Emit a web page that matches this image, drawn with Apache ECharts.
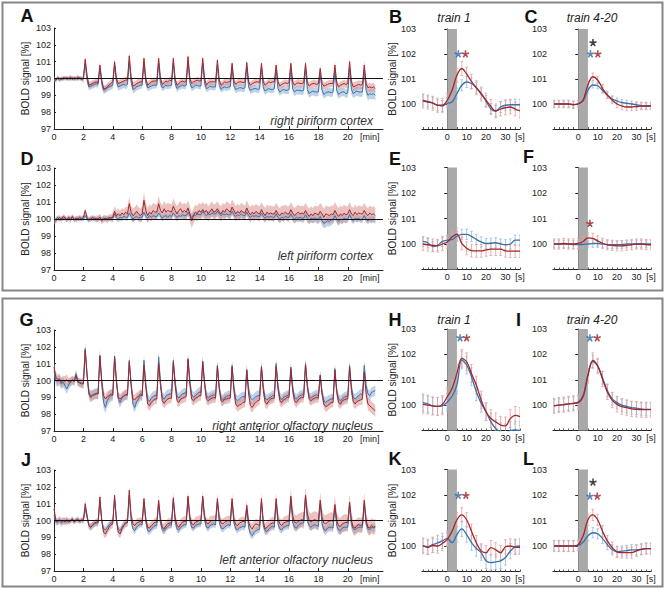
<!DOCTYPE html>
<html><head><meta charset="utf-8">
<script src="https://cdn.jsdelivr.net/npm/echarts@6/dist/echarts.min.js"></script>
<style>html,body{margin:0;padding:0;background:#fff}#c{width:666px;height:590px}</style>
</head><body><div id="c"></div><script>
// ---------- tick labels ----------
const bigXTicks = [0,2,4,6,8,10,12,14,16,18,20];
const bigYTicks = [97,98,99,100,101,102,103];
const smallXTicks = [0,10,20,30];
const smallYTicks = [100,101,102,103];
const stimWindow = [0,5];           // seconds (grey bar)
const STEP_MIN = 0.125;             // sampling step of the long time courses (min)

// ---------- long time courses (8 samples per minute, minutes 0..21) ----------
const aRed = [
100.0,99.9,100.05,100.0,99.95,100.05,100.0,100.05,
100.0,100.1,99.95,100.05,100.0,100.1,100.0,99.95,
100.0,101.15,100.2,99.6,99.65,99.7,99.75,99.8,
99.75,100.8,99.9,99.4,99.4,99.5,99.6,99.7,
99.8,101.0,100.0,99.7,99.75,99.8,99.85,99.9,
99.9,101.35,100.1,99.55,99.6,99.7,99.75,99.8,
99.8,101.2,100.0,99.6,99.7,99.8,99.85,99.85,
99.85,101.2,100.0,99.65,99.75,99.85,99.8,99.9,
99.85,101.2,99.95,99.6,99.7,99.8,99.85,99.8,
99.85,101.3,100.0,99.7,99.8,99.85,99.9,99.85,
99.85,101.2,100.0,99.6,99.75,99.8,99.8,99.8,
99.8,101.1,99.9,99.6,99.7,99.8,99.75,99.8,
99.8,100.9,99.85,99.65,99.75,99.8,99.8,99.75,
99.8,100.95,99.8,99.6,99.7,99.75,99.8,99.8,
99.75,100.9,99.8,99.6,99.7,99.8,99.75,99.8,
99.8,100.8,99.8,99.55,99.65,99.7,99.75,99.7,
99.75,100.9,99.8,99.6,99.7,99.75,99.7,99.7,
99.75,100.9,99.75,99.55,99.65,99.7,99.7,99.65,
99.7,100.6,99.7,99.55,99.6,99.65,99.7,99.7,
99.7,100.8,99.75,99.5,99.6,99.65,99.7,99.65,
99.7,101.0,99.8,99.5,99.55,99.6,99.65,99.6,
99.65,100.8,99.7,99.45,99.5,99.45,99.5,99.4];
const aBlue = [
99.95,99.9,100.0,99.9,100.0,99.95,100.05,99.95,
100.0,99.95,100.05,99.95,100.0,99.95,100.05,100.0,
99.95,100.9,99.9,99.5,99.55,99.6,99.65,99.7,
99.65,100.6,99.7,99.3,99.35,99.45,99.5,99.55,
99.6,100.8,99.8,99.5,99.55,99.6,99.65,99.6,
99.65,101.0,99.8,99.35,99.4,99.5,99.55,99.6,
99.6,100.9,99.75,99.45,99.5,99.55,99.6,99.6,
99.6,100.9,99.7,99.45,99.5,99.6,99.55,99.6,
99.6,100.9,99.7,99.4,99.5,99.55,99.6,99.55,
99.6,101.0,99.75,99.45,99.5,99.6,99.6,99.55,
99.55,100.9,99.7,99.4,99.45,99.55,99.5,99.5,
99.5,100.8,99.6,99.35,99.45,99.5,99.45,99.5,
99.5,100.6,99.55,99.35,99.4,99.45,99.45,99.4,
99.45,100.7,99.5,99.3,99.35,99.4,99.4,99.35,
99.4,100.6,99.45,99.25,99.35,99.4,99.35,99.35,
99.4,100.5,99.4,99.2,99.3,99.35,99.3,99.3,
99.35,100.6,99.4,99.2,99.3,99.3,99.3,99.25,
99.3,100.6,99.35,99.1,99.2,99.25,99.2,99.2,
99.2,100.3,99.3,99.05,99.15,99.2,99.2,99.15,
99.2,100.5,99.3,99.05,99.15,99.2,99.2,99.1,
99.15,100.6,99.35,99.1,99.2,99.25,99.2,99.2,
99.2,100.5,99.3,99.0,99.1,99.05,99.1,99.0];
const dRed = [
99.8,99.9,100.0,100.1,99.95,100.15,100.05,99.95,
100.1,100.0,100.15,99.95,100.05,100.0,100.1,100.0,
100.1,100.5,100.1,99.95,100.0,100.1,100.0,100.05,
100.0,100.1,99.9,100.0,100.05,99.95,100.1,100.05,
100.1,100.45,100.2,100.3,100.2,100.35,100.25,100.4,
100.3,100.9,100.4,100.2,100.3,100.45,100.3,100.2,
100.3,101.1,100.5,100.2,100.4,100.3,100.5,100.4,
100.4,100.9,100.5,100.35,100.6,100.4,100.5,100.45,
100.4,100.75,100.5,100.3,100.5,100.6,100.4,100.5,
100.4,100.65,100.3,99.9,100.2,100.4,100.3,100.5,
100.4,100.55,100.4,100.5,100.3,100.45,100.6,100.4,
100.45,100.6,100.4,100.3,100.5,100.4,100.6,100.5,
100.4,100.7,100.5,100.3,100.45,100.35,100.5,100.4,
100.35,100.65,100.4,100.25,100.4,100.3,100.45,100.35,
100.3,100.55,100.35,100.2,100.4,100.3,100.35,100.3,
100.3,100.5,100.3,100.2,100.35,100.3,100.4,100.3,
100.3,100.55,100.35,100.2,100.3,100.4,100.3,100.35,
100.3,100.5,100.3,100.15,100.3,100.2,100.35,100.3,
100.25,100.45,100.3,100.1,100.3,100.25,100.2,100.3,
100.25,100.5,100.3,100.15,100.3,100.2,100.35,100.25,
100.3,100.55,100.3,100.2,100.4,100.25,100.35,100.3,
100.3,100.5,100.3,100.2,100.35,100.25,100.3,100.2];
const dBlue = [
99.9,100.0,100.1,99.95,100.05,100.0,100.1,99.95,
100.05,99.95,100.1,100.0,99.95,100.05,100.0,100.05,
100.0,100.2,100.0,99.95,100.05,100.0,100.05,99.95,
100.0,100.1,99.95,100.05,100.0,100.05,100.0,100.05,
100.05,100.3,100.1,100.0,100.1,100.05,100.15,100.1,
100.1,100.35,100.15,100.0,100.1,100.15,100.05,100.1,
100.1,100.4,100.15,100.05,100.2,100.1,100.2,100.15,
100.15,100.35,100.2,100.05,100.15,100.2,100.1,100.2,
100.15,100.35,100.2,100.1,100.2,100.15,100.25,100.2,
100.2,100.4,100.2,100.1,100.25,100.2,100.3,100.25,
100.25,100.45,100.3,100.2,100.3,100.25,100.35,100.3,
100.3,100.45,100.3,100.2,100.3,100.25,100.3,100.25,
100.25,100.45,100.25,100.15,100.25,100.2,100.3,100.2,
100.2,100.4,100.2,100.1,100.2,100.15,100.2,100.15,
100.15,100.35,100.15,100.05,100.15,100.1,100.15,100.1,
100.1,100.3,100.1,100.0,100.1,100.05,100.15,100.1,
100.1,100.3,100.1,100.0,100.1,100.05,100.1,100.05,
100.05,100.25,100.05,99.95,100.05,100.0,100.05,100.0,
100.0,100.15,99.9,99.75,99.8,99.9,99.85,99.95,
99.95,100.2,100.0,99.85,100.0,99.95,100.05,100.0,
100.0,100.25,100.05,99.9,100.05,100.0,100.05,99.95,
100.0,100.2,100.0,99.9,100.0,99.95,100.0,99.95];
const gRed = [
100.8,100.2,100.05,100.1,99.9,100.0,99.95,100.05,
99.9,99.95,100.05,99.95,100.3,99.9,99.85,99.8,
99.8,101.8,100.3,99.2,99.0,99.1,99.15,99.2,
99.2,101.45,100.0,99.1,98.9,99.05,99.1,99.2,
99.15,101.4,100.0,99.0,98.9,99.0,99.1,99.15,
99.2,101.1,99.8,98.9,98.85,99.0,99.05,99.2,
99.1,100.9,99.6,98.6,98.5,98.7,98.8,98.9,
98.9,101.0,99.7,98.8,98.65,98.8,98.9,98.95,
98.95,101.1,99.7,98.8,98.7,98.9,98.95,99.0,
99.05,101.25,99.8,98.9,98.8,98.95,99.0,99.1,
99.1,101.1,99.8,98.9,98.8,98.9,98.95,99.0,
98.95,100.85,99.5,98.8,98.75,98.9,98.9,98.95,
98.95,100.8,99.4,98.6,98.45,98.55,98.6,98.7,
98.7,100.6,99.2,98.5,98.4,98.6,98.7,98.8,
98.85,100.8,99.4,98.7,98.6,98.8,98.9,98.95,
98.95,100.85,99.5,98.8,98.7,98.85,98.9,99.0,
99.0,100.7,99.4,98.8,98.7,98.85,98.95,99.0,
99.0,100.95,99.6,98.9,98.8,98.9,98.95,99.0,
98.95,100.3,99.2,98.6,98.45,98.5,98.6,98.7,
98.7,100.6,99.3,98.7,98.6,98.8,98.85,98.9,
98.9,100.8,99.4,98.75,98.6,98.75,98.8,98.85,
98.9,100.5,99.2,98.6,98.5,98.4,98.3,98.2];
const gBlue = [
100.6,100.0,99.95,100.0,99.8,99.9,99.7,99.5,
99.75,99.9,100.0,99.95,100.4,99.95,99.9,99.85,
99.85,101.9,100.4,99.3,99.1,99.15,99.2,99.25,
99.2,101.5,99.8,98.7,98.4,98.8,99.0,99.1,
99.1,101.45,99.9,98.9,98.7,98.95,99.05,99.15,
99.1,101.2,99.7,98.6,98.4,98.75,98.9,99.1,
99.1,101.2,99.8,98.9,98.75,98.95,99.05,99.1,
99.1,101.4,99.9,99.0,98.9,99.1,99.15,99.2,
99.2,101.2,99.9,99.1,98.95,99.1,99.2,99.25,
99.25,101.3,99.95,99.15,99.0,99.1,99.2,99.3,
99.3,101.15,99.9,99.1,98.95,99.05,99.1,99.15,
99.1,100.9,99.6,98.95,98.85,99.0,99.05,99.1,
99.1,100.9,99.6,98.9,98.8,98.9,99.0,99.05,
99.0,100.65,99.5,98.95,98.85,98.95,99.05,99.1,
99.1,100.85,99.6,98.95,98.85,98.95,99.0,99.1,
99.1,101.0,99.7,99.0,98.85,99.0,99.05,99.1,
99.15,100.8,99.6,99.0,98.9,99.0,99.1,99.15,
99.15,101.0,99.7,99.05,98.95,99.05,99.1,99.15,
99.1,100.3,99.3,98.8,98.7,98.8,98.85,98.9,
98.9,100.7,99.4,98.9,98.8,98.9,99.0,99.05,
99.05,100.9,99.6,99.0,98.9,99.0,99.1,99.2,
99.15,100.9,99.7,99.2,99.1,99.3,99.35,99.4];
const jRed = [
100.7,100.0,99.9,100.05,99.95,100.0,99.9,100.05,
99.9,100.0,100.1,99.9,100.05,100.0,99.95,100.05,
100.0,101.0,100.3,99.7,99.6,99.75,99.85,99.9,
99.9,101.4,100.0,99.3,99.2,99.4,99.6,99.75,
99.8,101.5,100.0,99.3,99.2,99.5,99.7,99.85,
99.9,101.8,100.3,99.8,99.7,99.85,99.9,99.95,
99.9,101.3,100.1,99.6,99.55,99.7,99.8,99.9,
99.9,101.2,100.1,99.6,99.5,99.7,99.8,99.85,
99.85,101.35,100.15,99.7,99.6,99.8,99.9,99.95,
99.95,101.45,100.2,99.8,99.75,99.9,99.95,100.0,
100.0,101.45,100.25,99.85,99.8,99.95,100.0,100.0,
100.0,101.3,100.2,99.85,99.8,99.9,99.95,100.0,
99.95,101.3,100.1,99.75,99.7,99.85,99.9,99.95,
99.9,100.9,99.9,99.6,99.5,99.7,99.8,99.75,
99.7,101.3,99.9,99.5,99.6,99.7,99.8,99.85,
99.85,101.3,100.1,99.8,99.7,99.85,99.9,99.95,
99.95,101.45,100.3,99.9,99.85,99.95,100.0,100.05,
100.0,101.5,100.4,100.0,99.9,100.0,100.05,100.0,
99.95,101.2,100.2,99.85,99.8,99.9,99.95,100.0,
99.95,100.95,100.0,99.7,99.65,99.8,99.85,99.9,
99.85,101.1,100.0,99.6,99.55,99.7,99.75,99.7,
99.75,101.2,100.0,99.6,99.55,99.7,99.6,99.65];
const jBlue = [
100.3,99.9,99.95,100.0,99.85,99.95,100.0,99.9,
100.0,99.95,100.05,99.95,100.0,100.1,99.95,100.0,
100.0,100.7,100.2,99.7,99.6,99.7,99.8,99.85,
99.85,101.1,100.0,99.5,99.45,99.6,99.75,99.85,
99.9,101.3,100.0,99.5,99.4,99.6,99.75,99.85,
99.85,101.5,100.0,99.5,99.4,99.6,99.7,99.8,
99.75,101.1,99.9,99.4,99.35,99.5,99.6,99.7,
99.7,101.0,99.85,99.45,99.4,99.55,99.65,99.75,
99.7,101.2,99.9,99.5,99.45,99.6,99.7,99.75,
99.75,101.3,100.0,99.6,99.55,99.7,99.75,99.8,
99.8,101.3,100.05,99.6,99.55,99.7,99.75,99.8,
99.75,101.1,99.9,99.55,99.5,99.6,99.7,99.75,
99.7,101.1,99.85,99.5,99.45,99.55,99.6,99.65,
99.6,100.7,99.6,99.2,99.1,99.3,99.4,99.45,
99.5,101.1,99.7,99.4,99.35,99.5,99.6,99.65,
99.6,101.1,99.8,99.5,99.45,99.6,99.65,99.7,
99.7,101.3,99.9,99.6,99.55,99.7,99.8,99.85,
99.85,101.4,100.0,99.7,99.6,99.7,99.75,99.7,
99.65,101.0,99.8,99.45,99.4,99.55,99.6,99.6,
99.55,100.8,99.7,99.45,99.4,99.55,99.6,99.6,
99.6,100.9,99.75,99.5,99.45,99.55,99.6,99.6,
99.6,101.0,99.8,99.5,99.45,99.6,99.55,99.6];

// s.e.m. half-widths per minute (0..21)
const aRedErr  = [0.12,0.12,0.2,0.2,0.2,0.22,0.2,0.2,0.2,0.2,0.2,0.2,0.2,0.2,0.2,0.2,0.22,0.22,0.22,0.22,0.25,0.25];
const aBlueErr = [0.12,0.12,0.2,0.22,0.22,0.22,0.2,0.2,0.2,0.2,0.2,0.2,0.22,0.22,0.22,0.22,0.25,0.25,0.25,0.25,0.28,0.3];
const dRedErr  = [0.15,0.15,0.15,0.2,0.3,0.4,0.45,0.45,0.45,0.45,0.45,0.45,0.45,0.45,0.45,0.45,0.45,0.45,0.5,0.5,0.45,0.45];
const dBlueErr = [0.12,0.15,0.15,0.15,0.2,0.2,0.2,0.2,0.2,0.2,0.2,0.2,0.2,0.2,0.2,0.2,0.25,0.25,0.3,0.25,0.2,0.2];
const gRedErr  = [0.3,0.25,0.3,0.3,0.3,0.3,0.3,0.3,0.3,0.3,0.3,0.3,0.3,0.3,0.3,0.3,0.3,0.3,0.3,0.3,0.3,0.35];
const gBlueErr = [0.3,0.25,0.3,0.35,0.3,0.3,0.3,0.3,0.3,0.3,0.3,0.3,0.3,0.3,0.3,0.3,0.3,0.3,0.3,0.3,0.3,0.3];
const jRedErr  = [0.2,0.15,0.2,0.25,0.25,0.25,0.25,0.3,0.3,0.3,0.3,0.3,0.3,0.3,0.35,0.35,0.45,0.5,0.5,0.5,0.45,0.45];
const jBlueErr = [0.2,0.15,0.2,0.2,0.2,0.2,0.2,0.2,0.2,0.2,0.2,0.2,0.2,0.22,0.22,0.22,0.22,0.22,0.25,0.25,0.25,0.25];

// ---------- event-related averages ----------
const smallT = [-12.5,-10,-7.5,-5,-2.5,0,2.5,5,7.5,10,12.5,15,17.5,20,22.5,25,27.5,30,32.5,35,37.5];
const bRed  = [100.12,100.08,100.03,99.95,99.95,100.15,100.55,101.15,101.42,101.2,100.9,100.65,100.4,100.15,99.9,99.72,99.8,99.85,99.88,99.8,99.72];
const bBlue = [100.15,100.1,100.05,99.95,99.92,100.03,100.08,100.42,100.75,100.88,100.82,100.65,100.42,100.12,99.8,99.72,99.88,99.95,99.97,99.97,99.97];
const cRed  = [100,100,100,100,99.97,100.0,100.16,100.76,101.09,100.96,100.63,100.36,100.16,100.0,99.92,99.88,99.88,99.9,99.92,99.92,99.92];
const cBlue = [100,100,100,100,99.98,100.02,100.12,100.55,100.76,100.73,100.55,100.35,100.2,100.12,100.06,100.03,100.0,99.97,99.93,99.92,99.92];
const eRed  = [100.0,99.97,99.95,99.93,100.0,100.08,100.28,100.39,100.02,99.83,99.74,99.73,99.73,99.77,99.8,99.8,99.8,99.73,99.72,99.72,99.72];
const eBlue = [100.1,100.05,99.9,99.95,100.1,100.15,100.17,100.3,100.38,100.38,100.3,100.18,100.08,100.02,100.03,100.05,100.0,99.97,100.0,100.15,100.15];
const fRed  = [100,100,100.02,100.0,100.0,100.02,100.1,100.24,100.22,100.12,100.03,99.97,99.95,99.93,99.93,99.95,99.97,100.0,100.0,99.98,99.97];
const fBlue = [100,100,100,100,99.98,99.98,99.98,100.0,100.02,100.02,100.0,99.98,99.97,99.97,99.98,100,100,100,100,100,100];
const hRed  = [100.03,100.0,99.97,99.95,100.03,100.33,100.66,101.25,101.84,101.71,101.25,100.79,100.2,99.74,99.47,99.34,99.21,99.18,99.47,99.6,99.55];
const hBlue = [100.1,100.05,99.97,99.95,99.97,100.12,100.35,100.8,101.78,101.58,101.12,100.53,100.07,99.74,99.34,99.08,98.95,98.9,99.0,99.02,99.0];
const iRed  = [99.97,100.0,100.02,100.05,100.07,100.1,100.33,101.16,101.76,101.55,101.03,100.52,100.2,100.03,99.94,99.9,99.85,99.83,99.82,99.82,99.82];
const iBlue = [99.97,100.0,100.02,100.05,100.07,100.12,100.38,101.2,101.72,101.55,101.08,100.58,100.25,100.1,100.0,99.95,99.9,99.88,99.85,99.83,99.83];
const kRed  = [100.02,99.94,100.02,100.0,100.1,100.26,100.58,101.03,101.22,101.03,100.58,100.13,99.81,99.74,99.94,99.85,99.74,99.97,100.0,99.96,99.95];
const kBlue = [100.0,99.97,100.05,100.12,100.2,100.3,100.13,100.45,100.67,100.45,100.13,99.9,99.74,99.42,99.35,99.38,99.42,99.55,99.8,99.97,100.0];
const lRed  = [100,100,100,100,100,100.05,100.39,101.03,101.22,101.03,100.58,100.2,99.94,99.77,99.74,99.74,99.74,99.81,99.87,99.9,99.9];
const lBlue = [100,100,100,100,100,100.02,100.15,100.4,100.52,100.48,100.3,100.05,99.85,99.77,99.8,99.82,99.85,99.85,99.87,99.9,99.9];
// error half-widths [red, blue]
const bErr = [0.28,0.22], cErr = [0.15,0.12], eErr = [0.25,0.2], fErr = [0.2,0.15];
const hErr = [0.35,0.35], iErr = [0.3,0.25], kErr = [0.28,0.3], lErr = [0.22,0.2];
// significance stars [time s, value, group]
const bStars = [[5.7,102,'blue'],[9.4,102,'red']];
const cStars = [[7.6,102.45,'black'],[6.3,102,'blue'],[10.1,102,'red']];
const eStars = [];
const fStars = [[6,100.8,'red']];
const hStars = [[6.6,102.65,'blue'],[10,102.65,'red']];
const iStars = [[6,102.65,'blue'],[9.8,102.65,'red']];
const kStars = [[5.7,101.98,'blue'],[9.6,101.98,'red']];
const lStars = [[7.6,102.5,'black'],[6,101.95,'blue'],[9.8,101.95,'red']];

// ---------- styling ----------
const FONT = '"Liberation Sans", Arial, Helvetica, sans-serif';
const COL = {red:'#a3262b', blue:'#3b71a8', black:'#111111'};
const STAR = {red:'#9a1f22', blue:'#2f68a3', black:'#111111'};
const BAND = {red:'rgba(214,136,130,0.5)', blue:'rgba(128,166,208,0.5)'};
const EB = {red:'#e3a09c', blue:'#95bde0'};
const AX = '#222';

// asterisk-shaped symbol (5 arms)
const ASTERISK = (function(){
  const parts=[]; const r=10, w=2.1;
  for(let k=0;k<5;k++){
    const a=(k*72-90)*Math.PI/180, c=Math.cos(a), s=Math.sin(a), px=-s*w, py=c*w;
    const pts=[[px,py],[r*c+px,r*s+py],[r*c-px,r*s-py],[-px,-py]];
    parts.push('M'+pts.map(p=>p[0].toFixed(2)+' '+p[1].toFixed(2)).join(' L')+' Z');
  }
  return 'path://'+parts.join(' ');
})();

const bigPanels = [
  {red:aRed, blue:aBlue, rErr:aRedErr, bErr:aBlueErr, top:28, h:101},
  {red:dRed, blue:dBlue, rErr:dRedErr, bErr:dBlueErr, top:168, h:102},
  {red:gRed, blue:gBlue, rErr:gRedErr, bErr:gBlueErr, top:330, h:101},
  {red:jRed, blue:jBlue, rErr:jRedErr, bErr:jBlueErr, top:470, h:101}
];
const smallPanels = [
  {red:bRed, blue:bBlue, err:bErr, stars:bStars, left:422, top:29, h:100, yName:true},
  {red:cRed, blue:cBlue, err:cErr, stars:cStars, left:553, top:29, h:100, yName:false},
  {red:eRed, blue:eBlue, err:eErr, stars:eStars, left:422, top:167.5, h:102, yName:true},
  {red:fRed, blue:fBlue, err:fErr, stars:fStars, left:553, top:167.5, h:102, yName:false},
  {red:hRed, blue:hBlue, err:hErr, stars:hStars, left:422, top:329, h:101.5, yName:true},
  {red:iRed, blue:iBlue, err:iErr, stars:iStars, left:553, top:329, h:101.5, yName:false},
  {red:kRed, blue:kBlue, err:kErr, stars:kStars, left:422, top:469.5, h:102, yName:true},
  {red:lRed, blue:lBlue, err:lErr, stars:lStars, left:553, top:469.5, h:102, yName:false}
];

const grid=[], xAxis=[], yAxis=[], series=[];
const lblStyle = {fontSize:9, color:AX, fontFamily:FONT};

function bandSeries(idx, vals, errs, color){
  const up=[], lo=[];
  vals.forEach((v,i)=>{const t=i*STEP_MIN; const e=errs[Math.min(errs.length-1,Math.floor(t+1e-9))]; up.push([t,v+e]); lo.push([t,v-e]);});
  return {type:'custom', xAxisIndex:idx, yAxisIndex:idx, silent:true, clip:true, z:1, data:[[0,100]],
    renderItem:(p,api)=>({type:'polygon', shape:{points: up.map(d=>api.coord(d)).concat(lo.slice().reverse().map(d=>api.coord(d)))}, style:{fill:color}})};
}
function errSeries(idx, vals, err, color){
  return {type:'custom', xAxisIndex:idx, yAxisIndex:idx, silent:true, clip:true, z:2,
    data: smallT.map((t,i)=>[t, vals[i]-err, vals[i]+err]), encode:{x:0, y:[1,2]},
    renderItem:(p,api)=>{
      const a=api.coord([api.value(0),api.value(1)]), b=api.coord([api.value(0),api.value(2)]);
      const st={stroke:color, lineWidth:0.8};
      return {type:'group', children:[
        {type:'line', shape:{x1:a[0],y1:a[1],x2:b[0],y2:b[1]}, style:st},
        {type:'line', shape:{x1:a[0]-1.3,y1:a[1],x2:a[0]+1.3,y2:a[1]}, style:st},
        {type:'line', shape:{x1:b[0]-1.3,y1:b[1],x2:b[0]+1.3,y2:b[1]}, style:st}]};
    }};
}

bigPanels.forEach((p,k)=>{
  const idx = grid.length;
  grid.push({left:54, top:p.top, width:329, height:p.h});
  xAxis.push({type:'value', gridIndex:idx, min:0, max:22.4,
    axisLine:{lineStyle:{color:AX,width:1}},
    axisTick:{show:true, inside:true, length:3, customValues:bigXTicks, lineStyle:{color:AX}},
    axisLabel:Object.assign({customValues:bigXTicks.concat([21.5]), margin:3,
      formatter:v=> v===21.5 ? '[min]' : String(v)}, lblStyle),
    splitLine:{show:false}});
  yAxis.push({type:'value', gridIndex:idx, min:97, max:103, interval:1,
    axisLine:{show:true, lineStyle:{color:AX,width:1}},
    axisTick:{show:true, inside:true, length:2, lineStyle:{color:AX}},
    axisLabel:Object.assign({margin:3, customValues:bigYTicks}, lblStyle),
    splitLine:{show:false},
    name:'BOLD signal [%]', nameLocation:'middle', nameGap:24,
    nameTextStyle:{fontSize:10, color:AX, fontFamily:FONT}});
  series.push(bandSeries(idx, p.blue, p.bErr, BAND.blue));
  series.push(bandSeries(idx, p.red, p.rErr, BAND.red));
  const toXY = vals => vals.map((v,i)=>[i*STEP_MIN, v]);
  series.push({type:'line', xAxisIndex:idx, yAxisIndex:idx, data:toXY(p.blue), showSymbol:false, silent:true, z:3,
    lineStyle:{color:COL.blue, width:1}});
  series.push({type:'line', xAxisIndex:idx, yAxisIndex:idx, data:toXY(p.red), showSymbol:false, silent:true, z:4,
    lineStyle:{color:COL.red, width:1},
    markLine:{silent:true, symbol:'none', label:{show:false}, lineStyle:{color:'#111', width:1.1, type:'solid'}, data:[{yAxis:100}]}});
});

smallPanels.forEach((p,k)=>{
  const idx = grid.length;
  grid.push({left:p.left, top:p.top, width:98, height:p.h});
  xAxis.push({type:'value', gridIndex:idx, min:-13, max:37.5,
    axisLine:{lineStyle:{color:AX,width:1}},
    axisTick:{show:true, inside:true, length:2, customValues:smallT, lineStyle:{color:'#555'}},
    axisLabel:Object.assign({customValues:smallXTicks.concat([37.5]), margin:3,
      formatter:v=> v===37.5 ? '[s]' : String(v)}, lblStyle),
    splitLine:{show:false}});
  yAxis.push({type:'value', gridIndex:idx, min:99, max:103,
    axisLine:{show:true, lineStyle:{color:AX,width:1}},
    axisTick:{show:true, inside:false, length:3, customValues:smallYTicks, lineStyle:{color:AX}},
    axisLabel:Object.assign({customValues:smallYTicks, margin:6}, lblStyle),
    splitLine:{show:false},
    name: p.yName ? 'BOLD signal [%]' : '', nameLocation:'middle', nameGap:20,
    nameTextStyle:{fontSize:10, color:AX, fontFamily:FONT}});
  // stimulation bar
  series.push({type:'custom', xAxisIndex:idx, yAxisIndex:idx, silent:true, z:1, data:[[stimWindow[0], stimWindow[1]]],
    renderItem:(pp,api)=>{
      const a=api.coord([api.value(0),103]), b=api.coord([api.value(1),99]);
      return {type:'rect', shape:{x:a[0], y:a[1], width:b[0]-a[0], height:b[1]-a[1]}, style:{fill:'#a9a9a9'}};
    }});
  series.push(errSeries(idx, p.blue, p.err[1], EB.blue));
  series.push(errSeries(idx, p.red, p.err[0], EB.red));
  series.push({type:'line', xAxisIndex:idx, yAxisIndex:idx, data:smallT.map((t,i)=>[t,p.blue[i]]), showSymbol:false, smooth:0.35, silent:true, z:3,
    lineStyle:{color:COL.blue, width:1.3}});
  series.push({type:'line', xAxisIndex:idx, yAxisIndex:idx, data:smallT.map((t,i)=>[t,p.red[i]]), showSymbol:false, smooth:0.35, silent:true, z:4,
    lineStyle:{color:COL.red, width:1.3}});
  if (p.stars.length) series.push({type:'scatter', xAxisIndex:idx, yAxisIndex:idx, symbol:ASTERISK, symbolSize:7.5, silent:true, z:5,
    data:p.stars.map(s=>({value:[s[0],s[1]], itemStyle:{color:STAR[s[2]]}}))});
});

// ---------- text & frames ----------
const letters = [['A',27,16],['B',395.5,16.5],['C',531,16.5],['D',27,159],['E',395,158.5],['F',528.5,157],
  ['G',26.5,319.5],['H',395,319.5],['I',518.5,319.5],['J',26,459.5],['K',395,459],['L',528.5,459]];
const titles = [['train 1',454,17.5],['train 4-20',592,17.5],['train 1',454,319.5],['train 4-20',592,319.5]];
const regions = [['right piriform cortex',373,120.5],['left piriform cortex',373,255.5],
  ['right anterior olfactory nucleus',373,426],['left anterior olfactory nucleus',373,559.5]];
const graphic = [
  {type:'rect', shape:{x:2.5,y:2.5,width:660,height:288}, style:{fill:'none', stroke:'#858585', lineWidth:2}, silent:true},
  {type:'rect', shape:{x:2.5,y:298.5,width:660,height:288}, style:{fill:'none', stroke:'#858585', lineWidth:2}, silent:true}
];
letters.forEach(l=>graphic.push({type:'text', x:l[1], y:l[2], silent:true,
  style:{text:l[0], fontSize:18, fontWeight:'bold', fontFamily:FONT, fill:'#111', align:'center', verticalAlign:'middle'}}));
titles.forEach(l=>graphic.push({type:'text', x:l[1], y:l[2], silent:true,
  style:{text:l[0], fontSize:12, fontStyle:'italic', fontFamily:FONT, fill:'#222', align:'center', verticalAlign:'middle'}}));
regions.forEach(l=>graphic.push({type:'text', x:l[1], y:l[2], silent:true,
  style:{text:l[0], fontSize:12, fontStyle:'italic', fontFamily:FONT, fill:'#333', align:'right', verticalAlign:'middle'}}));

const chart = echarts.init(document.getElementById('c'), null, {renderer:'svg', width:666, height:590});
chart.setOption({animation:false, backgroundColor:'#fff', grid, xAxis, yAxis, series, graphic});
</script></body></html>
